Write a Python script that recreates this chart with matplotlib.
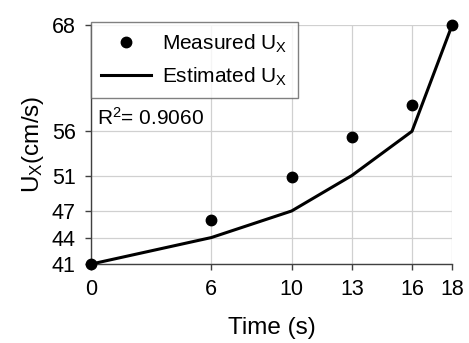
import matplotlib
matplotlib.use('Agg')
import matplotlib.pyplot as plt

plt.rcParams['font.family'] = ['Liberation Sans', 'DejaVu Sans']
plt.rcParams['mathtext.default'] = 'regular'

time = [0, 6, 10, 13, 16, 18]
measured = [41, 46, 50.85, 55.4, 59, 68]
estimated = [41, 44, 47, 51, 56, 68]
yticks = [41, 44, 47, 51, 56, 68]
r2 = 0.9060

fig = plt.figure(figsize=(4.69, 3.43), dpi=100)
ax = fig.add_axes([0.194, 0.230, 0.770, 0.697])

ax.plot(time, estimated, '-', color='black', lw=2.2, label='Estimated U$_X$', zorder=3)
ax.plot(time, measured, 'o', color='black', ms=7.5, label='Measured U$_X$', zorder=4, clip_on=False)

ax.set_xlim(0, 18)
ax.set_ylim(41, 68)
ax.set_xticks(time)
ax.set_yticks(yticks)
ax.grid(True, color='#d0d0d0', lw=0.9)
ax.set_axisbelow(True)
for s in ['top', 'right']:
    ax.spines[s].set_visible(False)
for s in ['left', 'bottom']:
    ax.spines[s].set_color('#404040')
    ax.spines[s].set_linewidth(1.0)
ax.tick_params(direction='out', length=4, width=1, color='#404040', labelsize=15.5, pad=7)

ax.set_xlabel('Time (s)', fontsize=17.5, labelpad=12)
ax.set_ylabel('U$_X$(cm/s)', fontsize=17.5, labelpad=4)

handles, labels = ax.get_legend_handles_labels()
leg = ax.legend(handles[::-1], labels[::-1], loc='upper left', bbox_to_anchor=(0.0, 1.012),
                fontsize=15, frameon=True, fancybox=False, handlelength=2.4,
                borderpad=0.5, labelspacing=0.5, handletextpad=0.5, borderaxespad=0)
leg.get_frame().set_edgecolor('#606060')
leg.get_frame().set_linewidth(1.0)

ax.text(0.3, 56.7, 'R$^2$= %.4f' % r2, fontsize=15, va='baseline')

fig.savefig('out.png', dpi=100)
